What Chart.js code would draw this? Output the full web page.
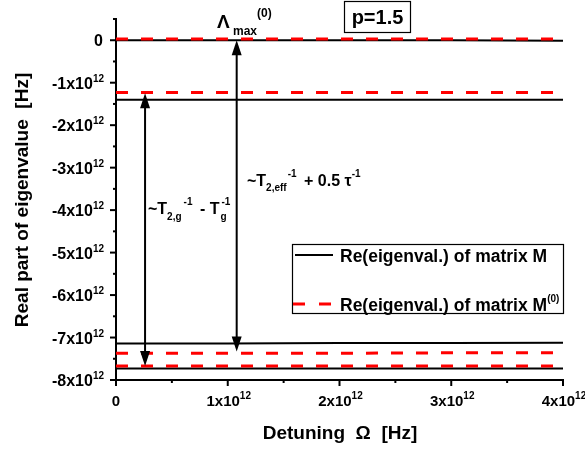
<!DOCTYPE html>
<html>
<head>
<meta charset="utf-8">
<script src="https://cdn.jsdelivr.net/npm/chart.js@4.4.1/dist/chart.umd.min.js"></script>
<style>
html,body{margin:0;padding:0;background:#fff;}
#wrap{width:585px;height:452px;position:relative;}
</style>
</head>
<body>
<div id="wrap"><canvas id="c" width="585" height="452"></canvas></div>
<script>
// Detuning values (units of 1e12 Hz)
const detuning = [0, 1, 2, 3, 4];
// Real parts of eigenvalues of M (units of 1e12 Hz)
const reM1 = [0, 0, 0, 0, -0.01];
const reM2 = [-1.40, -1.40, -1.40, -1.40, -1.40];
const reM3 = [-7.14, -7.14, -7.13, -7.13, -7.12];
const reM4 = [-7.73, -7.73, -7.73, -7.73, -7.73];
// Real parts of eigenvalues of M(0)
const reM0_1 = [0.03, 0.03, 0.03, 0.03, 0.03];
const reM0_2 = [-1.23, -1.23, -1.23, -1.23, -1.23];
const reM0_3 = [-7.37, -7.37, -7.37, -7.36, -7.36];
const reM0_4 = [-7.67, -7.67, -7.67, -7.67, -7.67];
// Tick values
const xTicks = [0, 1, 2, 3, 4];
const yTicks = [0, -1, -2, -3, -4, -5, -6, -7, -8];
// Arrow annotations: [x, yFrom, yTo]
const arrowA = [0.26, -1.25, -7.67];
const arrowB = [1.08, 0, -7.33];

const FONT = '"Liberation Sans", Arial, sans-serif';

function mk(data, color, dashed, label) {
  return {
    label: label,
    data: detuning.map((x, i) => ({x: x, y: data[i]})),
    borderColor: color,
    backgroundColor: color,
    borderWidth: dashed ? 3 : 2,
    borderDash: dashed ? [12, 13] : [],
    order: dashed ? 0 : 1,
    pointRadius: 0,
    tension: 0,
    fill: false
  };
}

function supText(ctx, base, sup, x, y, align, bSize, sSize, raise) {
  ctx.font = 'bold ' + bSize + 'px ' + FONT;
  const wb = ctx.measureText(base).width;
  ctx.font = 'bold ' + sSize + 'px ' + FONT;
  const ws = sup ? ctx.measureText(sup).width : 0;
  const total = wb + ws;
  let x0 = x;
  if (align === 'right') x0 = x - total;
  else if (align === 'center') x0 = x - total / 2;
  ctx.textAlign = 'left';
  ctx.font = 'bold ' + bSize + 'px ' + FONT;
  ctx.fillText(base, x0, y);
  if (sup) {
    ctx.font = 'bold ' + sSize + 'px ' + FONT;
    ctx.fillText(sup, x0 + wb, y - raise);
  }
}

function arrowHead(ctx, x, y, dir) {
  ctx.beginPath();
  ctx.moveTo(x, y);
  ctx.lineTo(x - 5, y - dir * 15);
  ctx.lineTo(x + 5, y - dir * 15);
  ctx.closePath();
  ctx.fill();
}

const deco = {
  id: 'deco',
  afterDraw(chart) {
    const ctx = chart.ctx;
    const xs = chart.scales.x, ys = chart.scales.y;
    ctx.save();
    ctx.fillStyle = '#000';
    ctx.strokeStyle = '#000';
    ctx.textBaseline = 'alphabetic';
    // ticks
    ctx.lineWidth = 2;
    const x0 = xs.left, yb = ys.bottom;
    for (let v = -8; v <= 0.5; v += 0.5) {
      const py = ys.getPixelForValue(v);
      const major = Number.isInteger(v);
      ctx.beginPath();
      ctx.moveTo(x0, py);
      ctx.lineTo(x0 - (major ? 6 : 3), py);
      ctx.stroke();
    }
    for (let v = 0; v <= 4; v += 0.5) {
      const px = xs.getPixelForValue(v);
      const major = Number.isInteger(v);
      ctx.beginPath();
      ctx.moveTo(px, yb);
      ctx.lineTo(px, yb + (major ? 6 : 3));
      ctx.stroke();
    }
    // y tick labels
    yTicks.forEach(v => {
      const py = ys.getPixelForValue(v);
      if (v === 0) supText(ctx, '0', '', 103, py + 6, 'right', 16, 10, 0);
      else supText(ctx, v + 'x10', '12', 104, py + 6, 'right', 16, 10, 7);
    });
    // x tick labels
    xTicks.forEach(v => {
      const px = xs.getPixelForValue(v);
      if (v === 0) supText(ctx, '0', '', px, 406, 'center', 15, 10, 0);
      else supText(ctx, v + 'x10', '12', px + 1, 406, 'center', 15, 10, 7);
    });
    // axis titles
    ctx.font = 'bold 19px ' + FONT;
    ctx.textAlign = 'center';
    ctx.fillText('Detuning  \u03A9  [Hz]', 340, 439);
    ctx.save();
    ctx.translate(28, 200);
    ctx.rotate(-Math.PI / 2);
    ctx.fillText('Real part of eigenvalue  [Hz]', 0, 0);
    ctx.restore();
    // arrows
    ctx.lineWidth = 2;
    [arrowA, arrowB].forEach(a => {
      const px = xs.getPixelForValue(a[0]);
      const p1 = ys.getPixelForValue(a[1]);
      const p2 = ys.getPixelForValue(a[2]);
      ctx.beginPath();
      ctx.moveTo(px, p1 + 10);
      ctx.lineTo(px, p2 - 10);
      ctx.stroke();
      arrowHead(ctx, px, p1, -1);
      arrowHead(ctx, px, p2, 1);
    });
    // annotation texts
    ctx.textAlign = 'left';
    ctx.font = 'bold 19px ' + FONT;
    ctx.fillText('\u039B', 217, 28);
    ctx.font = 'bold 12px ' + FONT;
    ctx.fillText('max', 233, 35);
    ctx.fillText('(0)', 257, 17);

    // ~T2,eff^-1 + 0.5 tau^-1
    let x = 247, y = 186;
    ctx.font = 'bold 16px ' + FONT;
    ctx.fillText('~T', x, y); x += ctx.measureText('~T').width;
    ctx.font = 'bold 10px ' + FONT;
    ctx.fillText('2,eff', x, y + 5);
    const wsub = ctx.measureText('2,eff').width;
    ctx.fillText('-1', x + wsub + 1, y - 9);
    x += wsub + ctx.measureText('-1').width + 4;
    ctx.font = 'bold 16px ' + FONT;
    ctx.fillText(' + 0.5 \u03C4', x, y); x += ctx.measureText(' + 0.5 \u03C4').width;
    ctx.font = 'bold 10px ' + FONT;
    ctx.fillText('-1', x, y - 9);

    // ~T2,g^-1 - Tg^-1
    x = 148; y = 214;
    ctx.font = 'bold 16px ' + FONT;
    ctx.fillText('~T', x, y); x += ctx.measureText('~T').width;
    ctx.font = 'bold 10px ' + FONT;
    ctx.fillText('2,g', x, y + 6);
    let w2 = ctx.measureText('2,g').width;
    ctx.fillText('-1', x + w2 + 2, y - 9);
    x += w2 + ctx.measureText('-1').width + 5;
    ctx.font = 'bold 16px ' + FONT;
    ctx.fillText(' - T', x, y); x += ctx.measureText(' - T').width;
    ctx.font = 'bold 10px ' + FONT;
    ctx.fillText('g', x + 1, y + 6);
    ctx.fillText('-1', x + 2, y - 9);

    // p=1.5 box
    ctx.lineWidth = 1.2;
    ctx.strokeRect(344.5, 1.5, 66, 31);
    ctx.font = 'bold 20px ' + FONT;
    ctx.textAlign = 'center';
    ctx.fillText('p=1.5', 377.5, 24);

    // legend
    ctx.lineWidth = 1.2;
    ctx.strokeRect(292.5, 244.5, 271, 69);
    ctx.lineWidth = 2;
    ctx.beginPath(); ctx.moveTo(295, 255); ctx.lineTo(333, 255); ctx.stroke();
    ctx.strokeStyle = '#ff0000';
    ctx.lineWidth = 3;
    ctx.setLineDash([12, 14]);
    ctx.beginPath(); ctx.moveTo(293, 304); ctx.lineTo(333, 304); ctx.stroke();
    ctx.setLineDash([]);
    ctx.textAlign = 'left';
    ctx.font = 'bold 17.5px ' + FONT;
    ctx.fillText('Re(eigenval.) of matrix M', 340, 262);
    ctx.fillText('Re(eigenval.) of matrix M', 340, 311);
    const wl = ctx.measureText('Re(eigenval.) of matrix M').width;
    ctx.font = 'bold 10px ' + FONT;
    ctx.fillText('(0)', 340 + wl, 302);
    ctx.restore();
  }
};

new Chart(document.getElementById('c'), {
  type: 'line',
  data: {
    datasets: [
      mk(reM1, '#000000', false, 'Re(eigenval.) of matrix M'),
      mk(reM2, '#000000', false, ''),
      mk(reM3, '#000000', false, ''),
      mk(reM4, '#000000', false, ''),
      mk(reM0_1, '#ff0000', true, 'Re(eigenval.) of matrix M(0)'),
      mk(reM0_2, '#ff0000', true, ''),
      mk(reM0_3, '#ff0000', true, ''),
      mk(reM0_4, '#ff0000', true, '')
    ]
  },
  options: {
    responsive: false,
    animation: false,
    layout: {padding: {left: 116, right: 22, top: 19, bottom: 72}},
    plugins: {legend: {display: false}, tooltip: {enabled: false}},
    scales: {
      x: {
        type: 'linear', min: 0, max: 4,
        ticks: {display: false},
        grid: {display: false, drawTicks: false},
        border: {display: true, color: '#000', width: 2},
        afterFit(s) { s.height = 0; }
      },
      y: {
        type: 'linear', min: -8, max: 0.5,
        ticks: {display: false},
        grid: {display: false, drawTicks: false},
        border: {display: true, color: '#000', width: 2},
        afterFit(s) { s.width = 0; }
      }
    }
  },
  plugins: [deco]
});
</script>
</body>
</html>
